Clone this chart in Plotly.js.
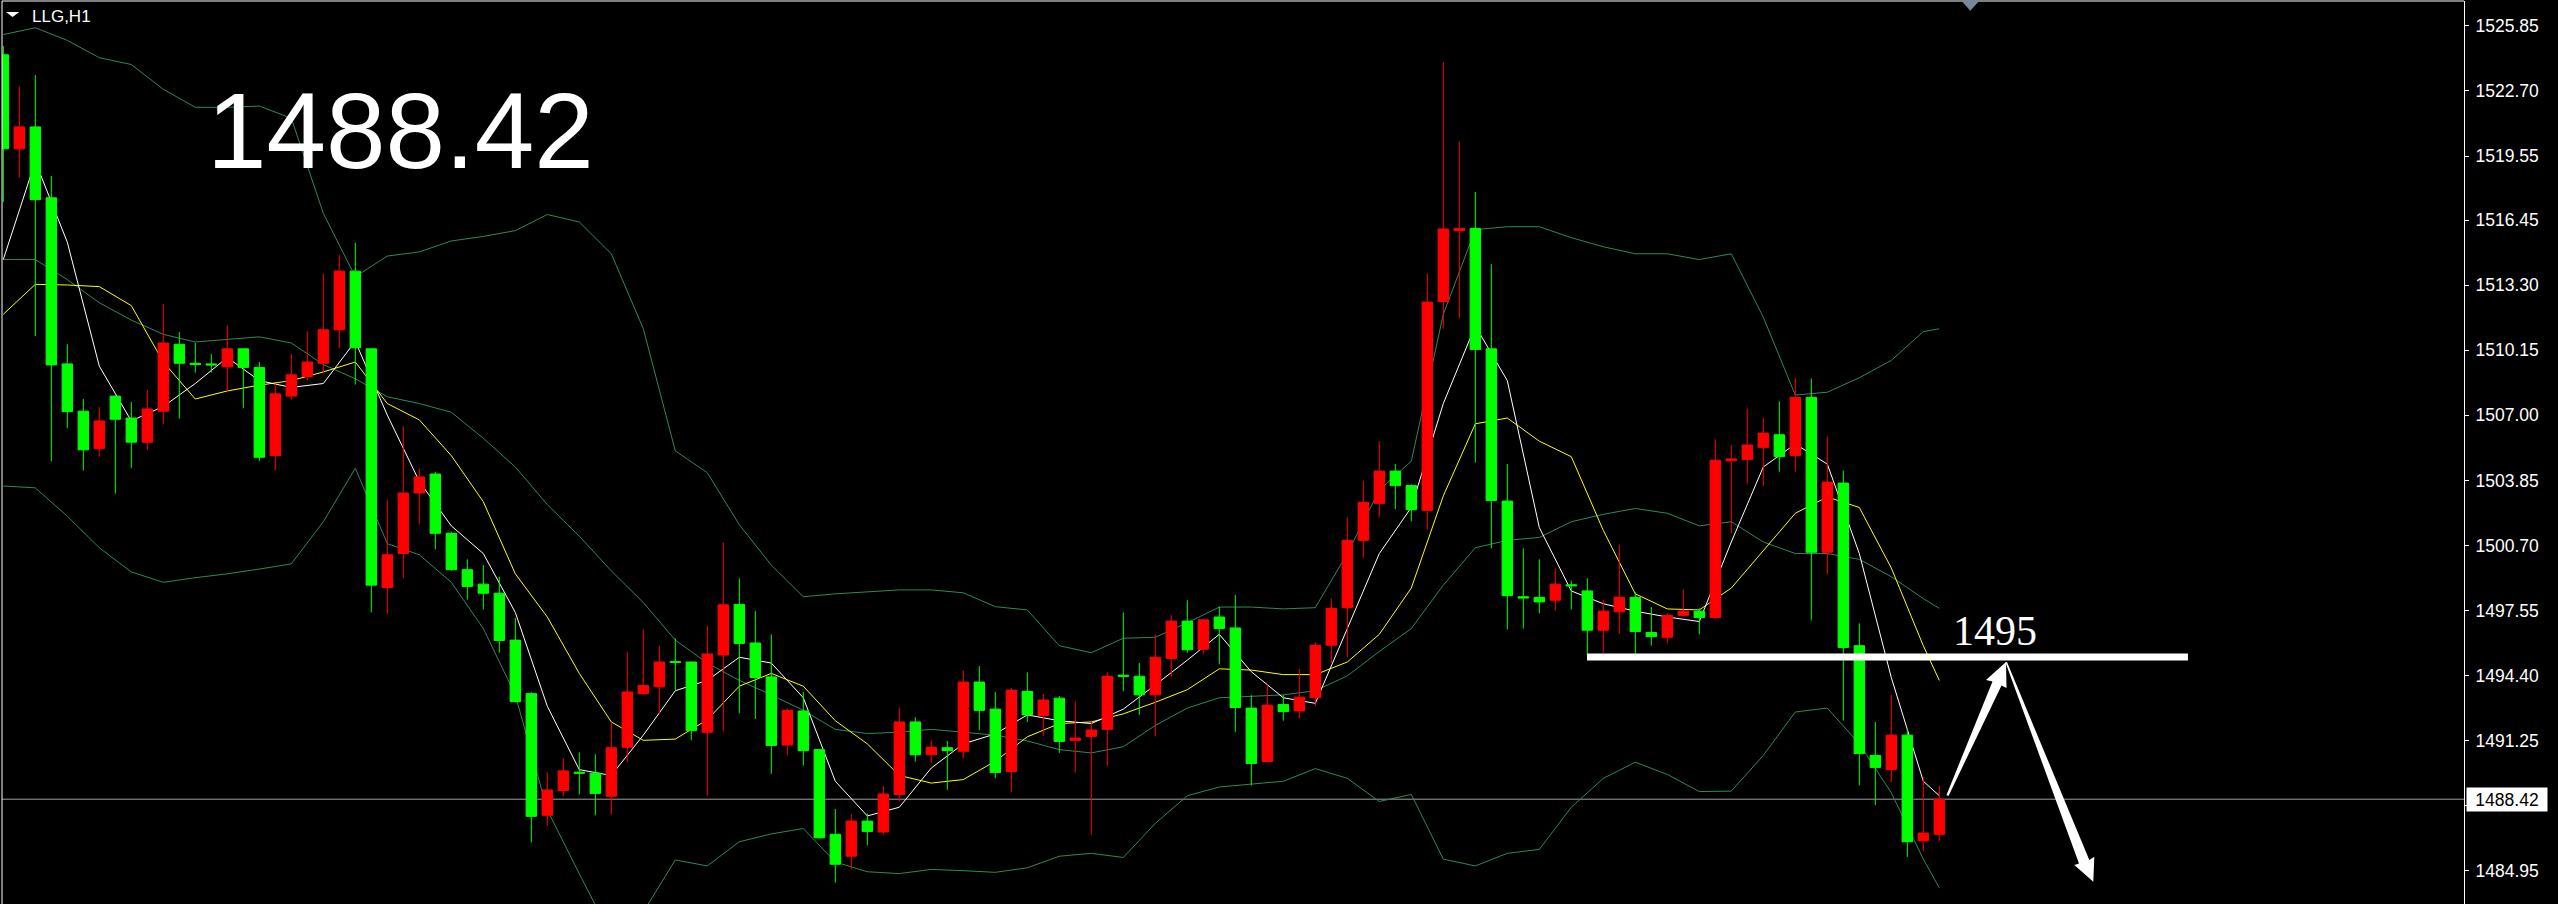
<!DOCTYPE html>
<html><head><meta charset="utf-8">
<script src="https://cdn.plot.ly/plotly-3.0.1.min.js"></script>
<style>html,body{margin:0;padding:0;background:#000;overflow:hidden}#chart{width:2558px;height:904px}</style>
</head><body><div id="chart"></div>
<script>
// ---------- text ----------
const symbolTitle = 'LLG,H1';
const bigPriceText = '1488.42';
const levelText = '1495';
const levelPrice = 1495.3;
const levelX0 = 98.98, levelX1 = 136.54;

// ---------- y-axis ticks ----------
const tickVals = [1525.85, 1522.70, 1519.55, 1516.45, 1513.30, 1510.15, 1507.00, 1503.85, 1500.70, 1497.55, 1494.40, 1491.25, 1488.10, 1484.95];
// the 1488.10 label sits under the current-price box in the reference, so it is not shown
const tickText = tickVals.map(v => (v === 1488.10 ? '' : v.toFixed(2)));

// ---------- candles (H1) ----------
const opens = [
1524.45,1519.90,1520.96,1517.53,1509.49,1507.20,1505.39,1507.93,1506.87,1505.70,
1507.20,1510.44,1509.52,1509.49,1509.35,1510.22,1509.32,1505.05,1507.93,1508.88,
1509.52,1511.14,1513.98,1510.22,1498.66,1500.31,1503.24,1504.16,1501.29,1499.53,
1498.83,1498.39,1496.12,1493.53,1487.64,1488.84,1489.73,1489.68,1488.56,1490.93,
1493.53,1493.86,1495.09,1495.06,1491.66,1495.40,1497.85,1495.98,1494.34,1491.04,
1492.69,1490.82,1486.72,1485.66,1487.36,1486.83,1488.65,1492.16,1490.57,1490.91,
1490.74,1494.09,1492.78,1489.76,1493.64,1492.47,1493.31,1491.27,1491.46,1491.80,
1494.42,1494.37,1493.47,1495.23,1497.04,1495.68,1497.24,1496.71,1492.83,1490.24,
1493.00,1492.69,1493.33,1495.87,1497.69,1500.95,1502.74,1504.30,1503.60,1502.40,
1512.51,1515.94,1516.05,1510.22,1502.85,1498.22,1498.19,1498.05,1498.80,1498.50,
1496.60,1497.49,1498.19,1496.49,1496.26,1497.32,1497.52,1497.21,1504.80,1504.86,
1505.45,1506.06,1505.05,1507.87,1500.37,1503.72,1495.85,1490.54,1489.85,1491.52,
1486.41,1486.72];
const highs = [
1524.87,1522.91,1523.47,1518.59,1510.44,1507.79,1507.40,1507.96,1507.65,1508.24,
1512.39,1511.03,1510.50,1509.97,1511.36,1510.24,1509.58,1508.54,1509.97,1511.08,
1513.87,1514.77,1515.35,1510.24,1502.91,1506.45,1504.41,1504.27,1501.37,1500.03,
1499.75,1499.19,1497.19,1493.61,1489.71,1490.40,1490.68,1490.60,1492.13,1495.54,
1496.65,1495.85,1496.21,1495.09,1496.79,1500.84,1499.11,1497.52,1496.40,1492.83,
1493.61,1490.85,1487.95,1487.70,1487.73,1489.06,1492.86,1492.39,1491.27,1491.24,
1494.65,1494.87,1493.61,1493.81,1494.56,1493.50,1493.42,1493.17,1492.16,1494.56,
1497.46,1495.01,1496.40,1497.32,1498.05,1497.16,1497.74,1498.30,1493.45,1493.98,
1493.47,1494.73,1496.01,1498.13,1502.07,1503.83,1505.75,1504.64,1503.66,1513.87,
1524.09,1520.26,1517.81,1514.32,1504.64,1500.56,1500.03,1499.59,1499.00,1499.11,
1498.08,1500.73,1498.44,1497.72,1497.41,1498.58,1497.66,1505.84,1505.56,1507.31,
1506.87,1507.68,1508.82,1508.79,1505.98,1504.33,1496.93,1492.16,1493.47,1491.83,
1489.48,1489.06];
const lows = [
1517.33,1518.51,1510.83,1504.78,1506.37,1504.33,1505.00,1503.21,1504.44,1505.33,
1506.59,1506.84,1509.07,1509.07,1508.18,1507.34,1504.78,1504.33,1507.76,1508.68,
1509.02,1510.24,1508.49,1497.46,1497.38,1499.11,1501.71,1500.51,1499.47,1498.08,
1497.60,1495.51,1493.11,1486.33,1487.14,1488.56,1488.65,1487.64,1487.67,1490.21,
1493.45,1492.55,1493.70,1491.27,1488.59,1491.71,1492.58,1492.30,1489.65,1490.54,
1490.04,1486.53,1484.38,1485.02,1486.19,1486.72,1488.31,1490.24,1490.18,1488.87,
1490.38,1491.77,1489.43,1488.76,1492.16,1491.49,1490.66,1489.71,1486.69,1490.04,
1493.64,1492.50,1491.46,1494.34,1495.51,1495.48,1494.95,1491.66,1489.09,1490.21,
1492.22,1492.33,1492.92,1495.01,1495.29,1500.12,1502.07,1502.46,1501.87,1501.48,
1511.19,1511.70,1504.72,1500.56,1496.63,1496.68,1497.41,1497.55,1497.60,1495.43,
1495.48,1496.43,1495.45,1495.85,1495.96,1497.30,1496.40,1497.13,1501.29,1503.69,
1503.58,1504.27,1504.27,1497.07,1499.33,1492.22,1489.09,1488.14,1489.23,1485.63,
1485.91,1486.39];
const closes = [
1519.90,1520.96,1517.44,1509.44,1507.18,1505.33,1506.73,1506.81,1505.70,1507.31,
1510.50,1509.52,1509.46,1509.44,1510.22,1509.32,1504.97,1508.04,1508.96,1509.58,
1511.14,1513.98,1510.27,1498.78,1500.25,1503.24,1504.02,1501.29,1499.53,1498.72,
1498.39,1496.10,1493.14,1487.59,1488.87,1489.79,1489.68,1488.70,1490.91,1493.61,
1493.92,1495.06,1495.04,1491.74,1495.45,1497.83,1495.96,1494.31,1491.02,1492.72,
1490.77,1486.55,1485.27,1487.36,1486.86,1488.67,1492.16,1490.57,1490.93,1490.77,
1494.09,1492.72,1489.71,1493.70,1492.50,1493.22,1491.21,1491.38,1491.77,1494.37,
1494.37,1493.47,1495.29,1497.04,1495.65,1497.10,1496.68,1492.86,1490.15,1492.97,
1492.66,1493.36,1495.87,1497.66,1500.95,1502.79,1504.30,1503.60,1502.43,1512.48,
1516.02,1516.05,1510.19,1502.88,1498.27,1498.16,1497.97,1498.83,1498.75,1496.60,
1497.52,1498.19,1496.54,1496.29,1497.32,1497.52,1497.21,1504.83,1504.89,1505.56,
1506.14,1505.00,1507.87,1500.37,1503.77,1495.76,1490.63,1489.96,1491.52,1486.36,
1486.78,1488.42];

// ---------- indicator lines (read every second bar) ----------
const maIdx = [0,2,4,6,8,10,12,14,16,18,20,22,24,26,28,30,32,34,36,38,40,42,44,46,48,50,52,54,56,58,
  60,62,64,66,68,70,72,74,76,78,80,82,84,86,88,90,92,94,96,98,100,102,104,106,108,110,112,114,116,118,120,121];
const maFast = [
1514.54,1519.29,1515.38,1509.38,1506.73,1507.43,1508.54,1509.80,1508.68,1508.35,
1508.54,1510.58,1507.01,1503.80,1501.65,1500.31,1497.46,1492.92,1489.85,1489.57,
1491.52,1493.67,1494.17,1495.29,1495.01,1493.33,1489.29,1487.61,1488.03,1489.93,
1491.10,1491.58,1492.50,1492.22,1492.08,1492.78,1493.95,1495.15,1496.40,1494.59,
1493.33,1493.06,1496.68,1500.31,1502.54,1507.57,1511.33,1508.68,1501.57,1498.50,
1497.88,1497.52,1497.24,1497.02,1500.87,1504.50,1505.61,1504.64,1500.31,1494.31,
1489.29,1488.59];
const maSlow = [
1511.89,1513.34,1513.31,1513.23,1512.31,1509.58,1507.79,1508.18,1508.46,1508.68,
1509.10,1509.58,1507.57,1506.78,1505.05,1502.82,1499.33,1497.24,1494.51,1492.16,
1491.27,1491.33,1492.27,1493.89,1494.51,1493.89,1492.22,1491.10,1489.57,1489.20,
1489.37,1490.26,1491.44,1492.08,1492.16,1492.55,1493.11,1493.72,1494.73,1494.67,
1494.45,1494.45,1495.06,1496.40,1498.64,1503.10,1506.59,1506.87,1505.75,1505.00,
1501.43,1498.36,1497.63,1497.58,1498.64,1500.45,1502.26,1503.05,1502.54,1499.61,
1495.85,1494.17];
const bbUpper = [
1525.43,1525.76,1525.15,1524.31,1523.98,1522.78,1521.91,1521.91,1521.97,1521.38,
1516.78,1513.71,1514.71,1514.91,1515.44,1515.66,1515.94,1516.72,1516.36,1514.82,
1511.19,1505.28,1504.22,1501.71,1499.75,1498.22,1498.36,1498.47,1498.55,1498.55,
1498.41,1497.74,1497.58,1495.85,1495.51,1496.21,1496.26,1496.96,1497.72,1497.72,
1497.63,1497.69,1500.31,1503.38,1504.78,1511.89,1515.99,1516.13,1516.13,1515.60,
1515.16,1514.82,1514.82,1514.54,1514.82,1511.75,1507.98,1508.12,1508.82,1509.66,
1511.05,1511.19];
const bbMid = [
1514.54,1514.54,1513.57,1512.45,1511.61,1510.92,1510.55,1510.69,1510.80,1510.50,
1509.46,1508.77,1507.90,1507.57,1507.15,1505.89,1504.50,1502.68,1501.15,1499.47,
1497.94,1496.12,1495.01,1494.17,1493.47,1492.72,1491.80,1491.60,1491.66,1491.80,
1491.66,1491.52,1491.24,1490.82,1490.66,1490.96,1491.99,1492.83,1493.33,1493.39,
1493.47,1493.67,1494.39,1495.57,1496.68,1498.78,1500.59,1500.95,1501.09,1501.85,
1502.21,1502.49,1502.26,1501.65,1501.85,1500.87,1500.31,1500.31,1500.03,1499.19,
1498.13,1497.66];
const bbLower = [
1503.58,1503.49,1502.12,1500.59,1499.42,1498.92,1499.14,1499.33,1499.56,1499.81,
1501.85,1504.44,1500.79,1500.25,1498.92,1496.68,1493.47,1487.90,1484.81,1481.80,
1482.96,1485.48,1485.19,1486.36,1486.74,1487.00,1485.38,1484.91,1484.82,1485.02,
1484.96,1484.88,1485.10,1485.66,1485.80,1485.60,1487.25,1488.59,1489.01,1489.15,
1489.29,1489.90,1489.43,1488.31,1488.65,1485.52,1485.19,1485.80,1485.99,1488.03,
1489.43,1490.21,1489.62,1488.79,1488.81,1490.54,1492.64,1492.83,1491.10,1488.73,
1485.52,1484.13];

const barIdx = opens.map((_, i) => i);
const lastClose = closes[closes.length - 1];

// ---------- geometry ----------
const W = 2558, H = 904, ML = 2, MR = 94, MT = 1, MB = 0;
const PW = W - ML - MR, PH = H - MT - MB;
const xRange = [-0.08125, -0.08125 + PW / 16];
const yTop = 1527.055, yRange = [yTop - PH / 20.66, yTop];
const px = x => (x - ML) / PW;
const py = y => 1 - (y - MT) / PH;
const path = pts => pts.map((p, k) => (k ? 'L' : 'M') + px(p[0]).toFixed(5) + ',' + py(p[1]).toFixed(5)).join(' ') + ' Z';

const lineTrace = (y, color) => ({type: 'scatter', mode: 'lines', x: maIdx, y: y,
  line: {color: color, width: 1}, hoverinfo: 'skip', xaxis: 'x', yaxis: 'y'});
const bandColor = '#2f8a55';
const traces = [
  lineTrace(bbUpper, bandColor),
  lineTrace(bbMid, bandColor),
  lineTrace(bbLower, bandColor),
  lineTrace(maSlow, '#ffff00'),
  lineTrace(maFast, '#ffffff'),
  {type: 'candlestick', x: barIdx, open: opens, high: highs, low: lows, close: closes,
   xaxis: 'x2', yaxis: 'y2', whiskerwidth: 0,
   increasing: {line: {color: '#ff0000', width: 1}, fillcolor: '#ff0000'},
   decreasing: {line: {color: '#00ff00', width: 1}, fillcolor: '#00ff00'},
   hoverinfo: 'skip'}
];

const white = '#ffffff';
const axisFont = {family: 'Liberation Sans, Arial, sans-serif', size: 17.5, color: white};
const layout = {
  width: W, height: H,
  paper_bgcolor: '#000000', plot_bgcolor: '#000000',
  margin: {l: ML, r: MR, t: MT, b: MB, pad: 0},
  showlegend: false,
  boxgap: 0.35, boxgroupgap: 0,
  xaxis: {range: xRange, showgrid: false, zeroline: false, showticklabels: false, ticks: '',
          showline: false, rangeslider: {visible: false}, fixedrange: true},
  xaxis2: {range: xRange, overlaying: 'x', visible: false, rangeslider: {visible: false}, fixedrange: true},
  yaxis: {range: yRange, side: 'right', showgrid: false, zeroline: false,
          tickmode: 'array', tickvals: tickVals, ticktext: tickText,
          ticks: 'outside', ticklen: 4, tickwidth: 1, tickcolor: white,
          showline: true, linecolor: white, linewidth: 1, ticklabelstandoff: 3,
          tickfont: axisFont, fixedrange: true},
  yaxis2: {range: yRange, overlaying: 'y', visible: false, fixedrange: true},
  shapes: [
    {type: 'line', xref: 'paper', yref: 'paper', x0: 0, x1: 1, y0: 1, y1: 1, line: {color: white, width: 1}},
    {type: 'line', xref: 'paper', yref: 'paper', x0: 0, x1: 0, y0: 0, y1: 1, line: {color: white, width: 1}},
    {type: 'line', xref: 'paper', yref: 'y', x0: 0, x1: 1, y0: lastClose, y1: lastClose,
     line: {color: '#a0a0a4', width: 1}, layer: 'below'},
    {type: 'line', xref: 'x', yref: 'y', x0: levelX0, x1: levelX1, y0: levelPrice, y1: levelPrice,
     line: {color: white, width: 7}},
    {type: 'path', xref: 'paper', yref: 'paper', fillcolor: white, line: {width: 0},
     path: path([[1946.5, 795], [1992.5, 681.5], [1986, 680], [2006, 662], [2006.5, 688], [2001.5, 685.5], [1948.5, 796]])},
    {type: 'path', xref: 'paper', yref: 'paper', fillcolor: white, line: {width: 0},
     path: path([[2005.5, 662.5], [2079, 863.5], [2074.3, 865], [2093.3, 881.7], [2094.3, 856.7], [2089.3, 860], [2007, 662]])},
    {type: 'path', xref: 'paper', yref: 'paper', fillcolor: '#778899', line: {width: 0},
     path: path([[1960.7, 0], [1980, 0], [1970.3, 10.7]])},
    {type: 'path', xref: 'paper', yref: 'paper', fillcolor: white, line: {width: 0},
     path: path([[6, 12], [19.2, 12], [12.6, 17]])}
  ],
  annotations: [
    {xref: 'paper', yref: 'paper', x: px(30), y: py(16.5), xanchor: 'left', yanchor: 'middle',
     text: symbolTitle, showarrow: false, font: {family: 'Liberation Sans, Arial, sans-serif', size: 17, color: white}},
    {xref: 'paper', yref: 'paper', x: px(205), y: py(131), xanchor: 'left', yanchor: 'middle',
     text: bigPriceText, showarrow: false, font: {family: 'Liberation Sans, Arial, sans-serif', size: 107, color: white}},
    {xref: 'x', yref: 'y', x: 124.5, y: levelPrice, xanchor: 'center', yanchor: 'bottom', yshift: 1,
     text: levelText, showarrow: false, font: {family: 'Liberation Serif, Times New Roman, serif', size: 42, color: white}},
    {xref: 'paper', yref: 'y', x: px(2466), y: lastClose, xanchor: 'left', yanchor: 'middle',
     width: 80, height: 23, borderpad: 0, bgcolor: white,
     text: lastClose.toFixed(2), showarrow: false, font: {family: 'Liberation Sans, Arial, sans-serif', size: 17.5, color: '#000000'}}
  ]
};

Plotly.newPlot('chart', traces, layout, {staticPlot: true, displayModeBar: false});
</script>
</body></html>
